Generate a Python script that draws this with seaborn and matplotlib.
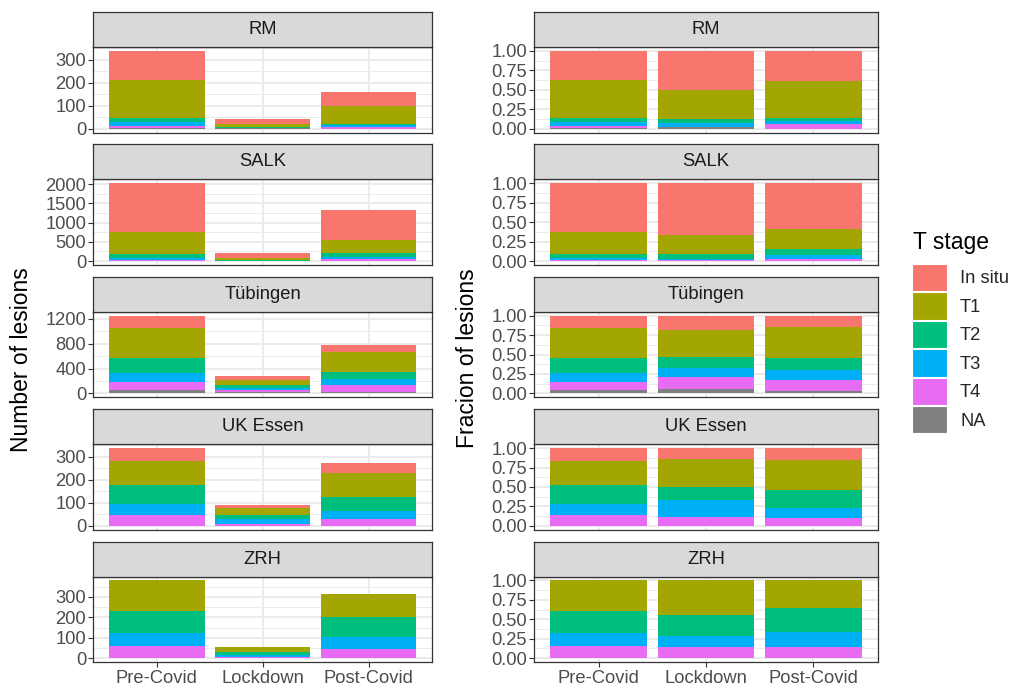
import numpy as np
import pandas as pd
import matplotlib
matplotlib.use("Agg")
import matplotlib.pyplot as plt
from matplotlib.patches import Patch
from matplotlib.ticker import FixedLocator, FuncFormatter
import seaborn as sns

sites = ["RM", "SALK", "Tübingen", "UK Essen", "ZRH"]
periods = ["Pre-Covid", "Lockdown", "Post-Covid"]
stages = ["In situ", "T1", "T2", "T3", "T4", "NA"]
stage_colors = ["#F8766D", "#A3A500", "#00BF7D", "#00B0F6", "#E76BF3", "#7F7F7F"]

# Lesion counts per stage; site by site, each with Pre-Covid / Lockdown / Post-Covid
in_situ = [125, 21, 63, 1260, 134, 785, 205, 52, 117, 54, 13, 41, 0, 0, 0]
t1 = [166, 16, 76, 565, 47, 345, 475, 94, 312, 108, 33, 106, 151, 25, 109]
t2 = [20, 2, 5, 105, 13, 105, 235, 38, 117, 82, 16, 62, 107, 15, 97]
t3 = [14, 2, 7, 65, 4, 55, 150, 33, 101, 48, 20, 35, 60, 8, 62]
t4 = [11, 0, 9, 25, 2, 40, 125, 41, 110, 46, 10, 28, 62, 8, 44]
na = [2, 1, 0, 0, 0, 0, 60, 17, 23, 0, 0, 0, 0, 0, 0]

count_ticks = {
    "RM": [0, 100, 200, 300],
    "SALK": [0, 500, 1000, 1500, 2000],
    "Tübingen": [0, 400, 800, 1200],
    "UK Essen": [0, 100, 200, 300],
    "ZRH": [0, 100, 200, 300],
}
fraction_ticks = [0.0, 0.25, 0.50, 0.75, 1.00]

# long table
rows = []
for stage, values in zip(stages, [in_situ, t1, t2, t3, t4, na]):
    for i, v in enumerate(values):
        rows.append((sites[i // 3], periods[i % 3], stage, v))
lesions = pd.DataFrame(rows, columns=["site", "period", "stage", "n"])

sns.set_theme(style="white")
plt.rcParams["font.family"] = ["Liberation Sans", "DejaVu Sans"]

W, H = 1011, 688
fig = plt.figure(figsize=(W / 100, H / 100), dpi=100)
fig.patch.set_facecolor("white")

BORDER = "#333333"
GRID = "#EBEBEB"
TICK_FS = 13.2


def px_axes(x0, y0, x1, y1):
    return fig.add_axes([x0 / W, 1 - y1 / H, (x1 - x0) / W, (y1 - y0) / H])


def minor_between(ticks, hi):
    step = ticks[1] - ticks[0]
    ext = list(ticks) + [ticks[-1] + step]
    mids = [(a + b) / 2 for a, b in zip(ext[:-1], ext[1:])]
    return [m for m in mids if m <= hi]


def draw_strip(x0, y0, x1, y1, label):
    sax = px_axes(x0, y0, x1, y1)
    sax.set_facecolor("#D9D9D9")
    sax.set_xticks([])
    sax.set_yticks([])
    for sp in sax.spines.values():
        sp.set_color(BORDER)
        sp.set_linewidth(0.9)
    sax.text(0.5, 0.5, label, ha="center", va="center", fontsize=TICK_FS,
             color="#1A1A1A", transform=sax.transAxes)


def draw_panel(ax, wide, fraction, ticks, bottom_row):
    cum = wide[stages[::-1]].cumsum(axis=1)
    totals = cum[stages[0]]
    if fraction:
        cum = cum.div(totals, axis=0)
        ymax = 1.0
    else:
        ymax = totals.max()
    for stage, color in zip(stages, stage_colors):
        layer = pd.DataFrame({"period": periods, "value": cum.loc[periods, stage].values})
        sns.barplot(data=layer, x="period", y="value", order=periods, color=color,
                    saturation=1, width=0.9, errorbar=None, linewidth=0, ax=ax)
    ax.set_xlim(-0.6, 2.6)
    ax.set_ylim(-0.05 * ymax, 1.05 * ymax)
    ax.yaxis.set_major_locator(FixedLocator(ticks))
    ax.yaxis.set_minor_locator(FixedLocator(minor_between(ticks, 1.05 * ymax)))
    if fraction:
        ax.yaxis.set_major_formatter(FuncFormatter(lambda v, p: f"{v:.2f}"))
    else:
        ax.yaxis.set_major_formatter(FuncFormatter(lambda v, p: f"{int(round(v))}"))
    ax.set_axisbelow(True)
    ax.grid(which="major", axis="both", color=GRID, linewidth=1.4)
    ax.grid(which="minor", axis="y", color=GRID, linewidth=0.7)
    ax.set_xlabel("")
    ax.set_ylabel("")
    for sp in ax.spines.values():
        sp.set_visible(True)
        sp.set_color(BORDER)
        sp.set_linewidth(0.9)
    ax.tick_params(axis="y", which="major", left=True, length=3.6, width=0.8,
                   color=BORDER, labelsize=TICK_FS, labelcolor="#4D4D4D", pad=1.6)
    ax.tick_params(axis="y", which="minor", left=False, length=0)
    if bottom_row:
        ax.tick_params(axis="x", which="major", bottom=True, length=3.6, width=0.8,
                       color=BORDER, labelsize=TICK_FS, labelcolor="#4D4D4D", pad=2.4)
    else:
        ax.tick_params(axis="x", bottom=False, labelbottom=False, length=0)


columns = [(93.3, 432.3, False), (534.3, 877.7, True)]
for r, site in enumerate(sites):
    top = 12 + r * 132.4
    strip_bottom = top + 35
    panel_bottom = top + 120.5
    wide = (lesions[lesions.site == site]
            .pivot(index="period", columns="stage", values="n")
            .reindex(index=periods, columns=stages).fillna(0))
    for x0, x1, frac in columns:
        ax = px_axes(x0, strip_bottom, x1, panel_bottom)
        draw_panel(ax, wide, frac, fraction_ticks if frac else count_ticks[site],
                   r == len(sites) - 1)
        draw_strip(x0, top, x1, strip_bottom, site)

fig.text(22 / W, 1 - 360 / H, "Number of lesions", rotation=90, ha="center",
         va="center", fontsize=16.5, color="black")
fig.text(468 / W, 1 - 358 / H, "Fracion of lesions", rotation=90, ha="center",
         va="center", fontsize=16.5, color="black")

# legend
fig.text(913 / W, 1 - 242 / H, "T stage", ha="left", va="center", fontsize=16.5,
         color="black")
handles = [Patch(facecolor=c, edgecolor="white", linewidth=0.8) for c in stage_colors]
fs_px = TICK_FS * 100 / 72
fig.legend(handles, stages, loc="upper left", bbox_to_anchor=(912 / W, 1 - 264 / H),
           frameon=False, fontsize=TICK_FS, handlelength=35 / fs_px,
           handleheight=35 / fs_px, labelspacing=1.2 / fs_px,
           handletextpad=13 / fs_px, borderpad=0, borderaxespad=0)

fig.savefig("out.png", dpi=100, facecolor="white")
